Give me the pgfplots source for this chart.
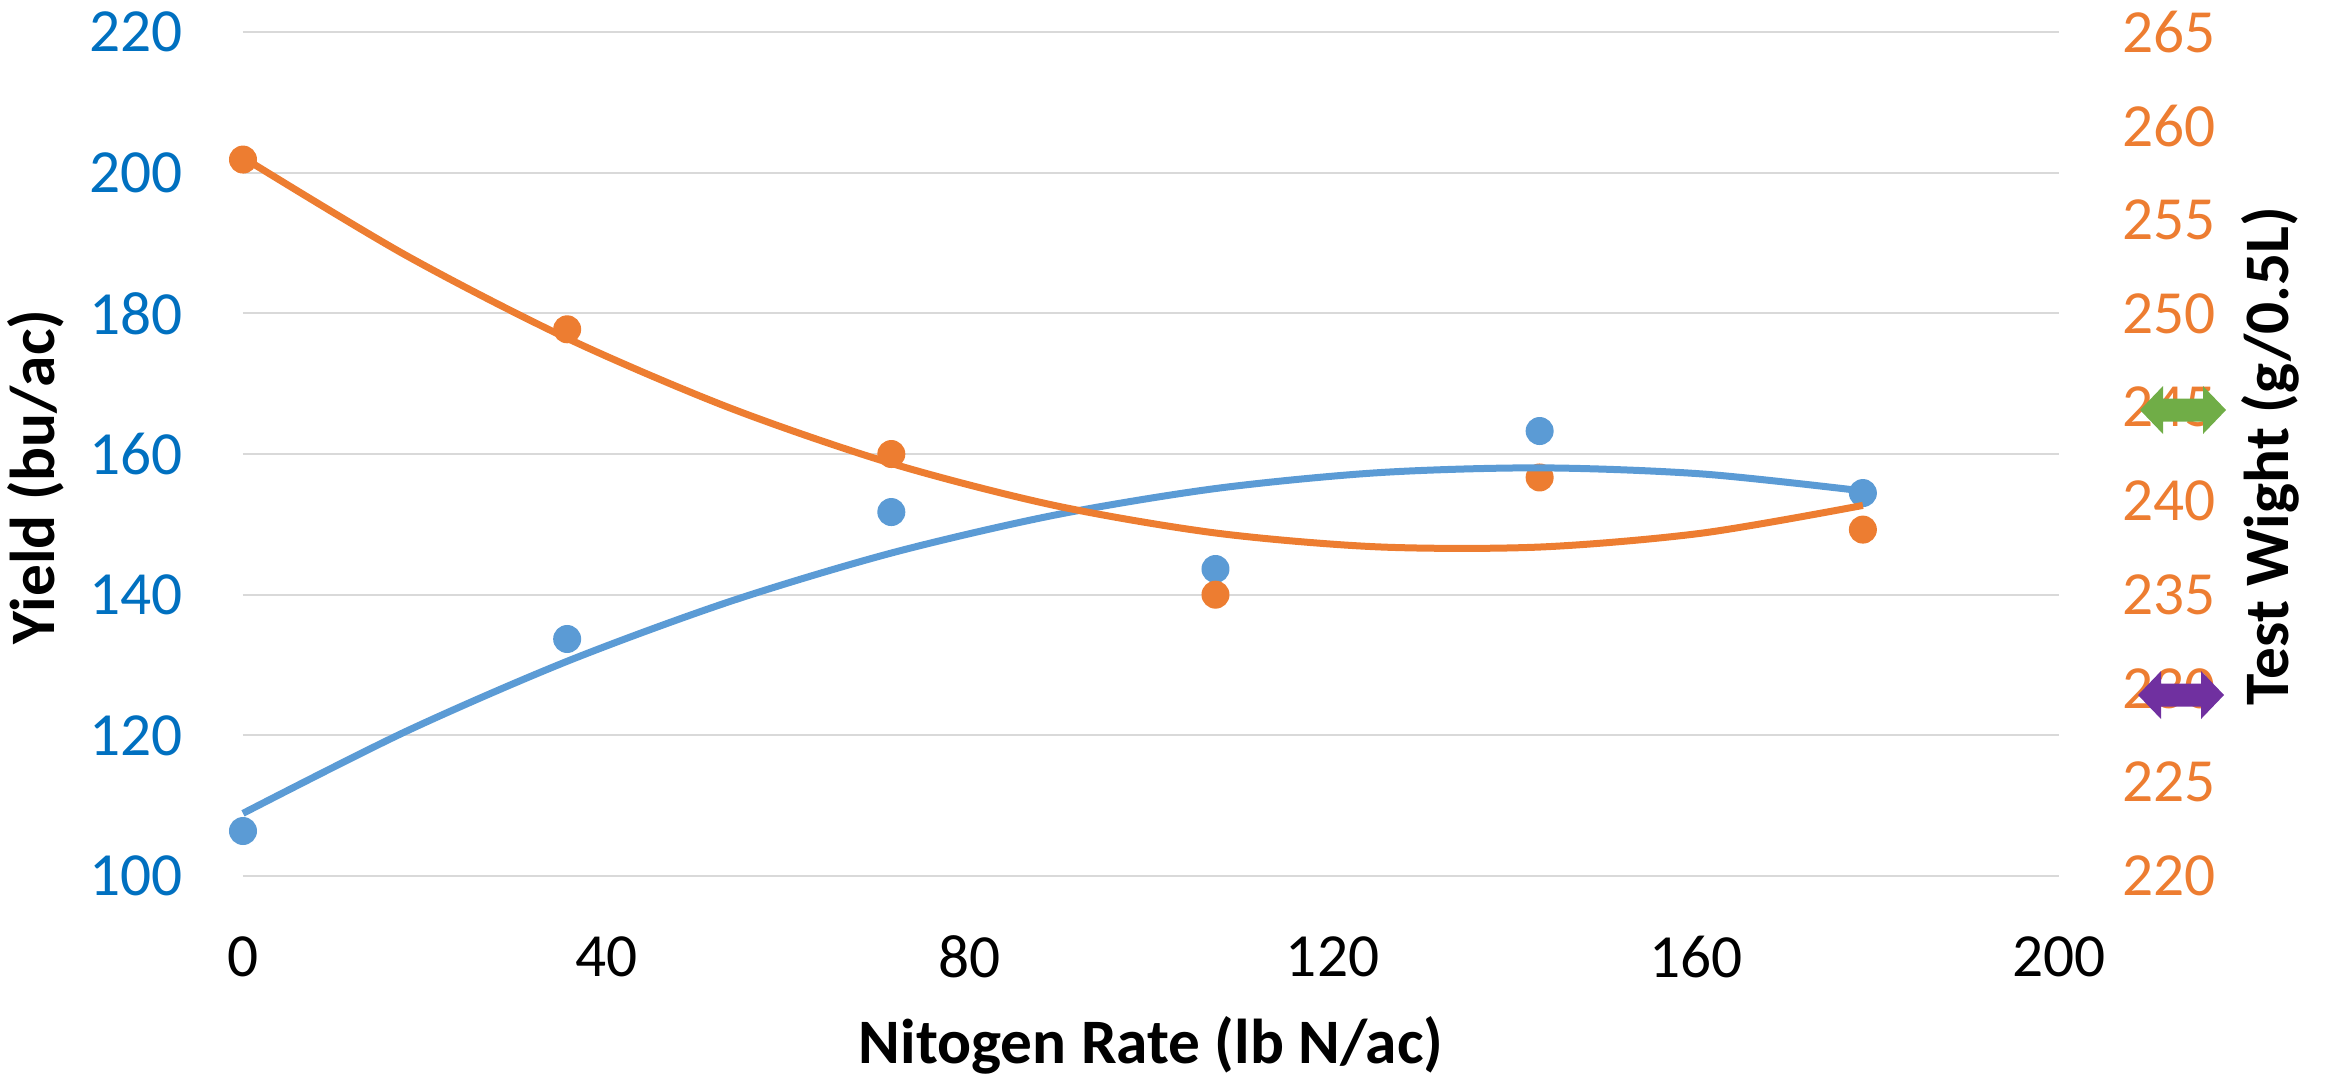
\documentclass[border=0pt]{standalone}
\usepackage{fontspec}
\setmainfont{Carlito}
\usepackage{pgfplots}
\usepackage{pgfplotstable}
\pgfplotsset{compat=1.18}

\definecolor{yieldblue}{HTML}{5B9BD5}
\definecolor{twgold}{HTML}{ED7D31}
\definecolor{yieldtick}{HTML}{0070C0}
\definecolor{gridgray}{HTML}{D9D9D9}
\definecolor{arrowgreen}{HTML}{70AD47}
\definecolor{arrowpurple}{HTML}{7030A0}

% measured plots: N rate, yield, test weight
\pgfplotstableread{
rate  yield   tw
0      106.40  258.20
35.7   133.70  249.15
71.4   151.75  242.50
107.1  143.65  235.00
142.8  163.27  241.25
178.4  154.45  238.47
}\obsdata

% second-order polynomial trend lines
\pgfplotstableread{
rate   yield   tw
0       108.91  258.31
17.85   120.50  253.12
35.7    130.53  248.67
53.55   139.00  244.97
71.4    145.92  242.00
89.25   151.28  239.77
107.1   155.09  238.29
124.95  157.34  237.55
142.8   158.03  237.54
160.65  157.17  238.28
178.4   154.75  239.76
}\trenddata

\pgfplotsset{
  base/.style={
    scale only axis, width=544.8pt, height=253.2pt,
    xmin=0, xmax=200,
    axis line style={draw=none}, major tick length=0pt, clip=false,
    /pgf/number format/assume math mode=true,
    ticklabel style={font=\fontsize{18.4}{22}\selectfont, inner sep=0pt},
  },
  leftscale/.style={ymin=100, ymax=220},
  rightscale/.style={ymin=220, ymax=265},
}

\begin{document}
\begin{tikzpicture}
% primary axis: yield
\begin{axis}[base, leftscale, name=main,
  xtick={0,40,...,200}, ytick={100,120,...,220},
  ymajorgrids, grid style={gridgray, line width=0.6pt},
  xticklabel style={anchor=center, yshift=-24.3pt, text=black},
  yticklabel style={anchor=east, xshift=-18pt, text=yieldtick},
]
\addplot[only marks, mark=*, mark size=4pt, yieldblue] table[x=rate, y=yield] {\obsdata};
\end{axis}
% secondary axis: test weight
\begin{axis}[base, rightscale, axis y line*=right, hide x axis,
  ytick={220,225,...,265},
  yticklabel style={anchor=west, xshift=18.9pt, text=twgold},
]
\addplot[only marks, mark=*, mark size=4pt, twgold] table[x=rate, y=tw] {\obsdata};
\end{axis}
% trend lines drawn above the markers
\begin{axis}[base, leftscale, hide axis]
\addplot[yieldblue, line width=2.1pt, smooth, no marks] table[x=rate, y=yield] {\trenddata};
\end{axis}
\begin{axis}[base, rightscale, hide axis]
\addplot[twgold, line width=2.1pt, smooth, no marks] table[x=rate, y=tw] {\trenddata};
\end{axis}

% axis titles
\node[rotate=90, font=\bfseries\fontsize{19}{23}\selectfont]
  at ([shift={(-62.1pt,119.7pt)}]main.south west) {Yield (bu/ac)};
\node[rotate=90, font=\bfseries\fontsize{19}{23}\selectfont]
  at ([shift={(63.3pt,126pt)}]main.south east) {Test Wight (g/0.5L)};
\node[font=\bfseries\fontsize{19}{23}\selectfont]
  at ([shift={(0pt,-50.7pt)}]main.south) {Nitogen Rate (lb N/ac)};

% double arrows beside the right scale
\fill[arrowgreen, shift={(main.north east)}, xshift=37.2pt, yshift=-113.4pt]
  (-12.9pt,0pt) -- (-6pt,7.2pt) -- (-6pt,3.45pt) -- (6pt,3.45pt) -- (6pt,7.2pt)
  -- (12.9pt,0pt) -- (6pt,-7.2pt) -- (6pt,-3.45pt) -- (-6pt,-3.45pt) -- (-6pt,-7.2pt) -- cycle;
\fill[arrowpurple, shift={(main.north east)}, xshift=36.6pt, yshift=-198.9pt]
  (-12.9pt,0pt) -- (-6pt,7.2pt) -- (-6pt,3.45pt) -- (6pt,3.45pt) -- (6pt,7.2pt)
  -- (12.9pt,0pt) -- (6pt,-7.2pt) -- (6pt,-3.45pt) -- (-6pt,-3.45pt) -- (-6pt,-7.2pt) -- cycle;

\pgfresetboundingbox
\path ([shift={(-72.9pt,-59.7pt)}]main.south west) rectangle ([shift={(79.8pt,9.6pt)}]main.north east);
\end{tikzpicture}
\end{document}
